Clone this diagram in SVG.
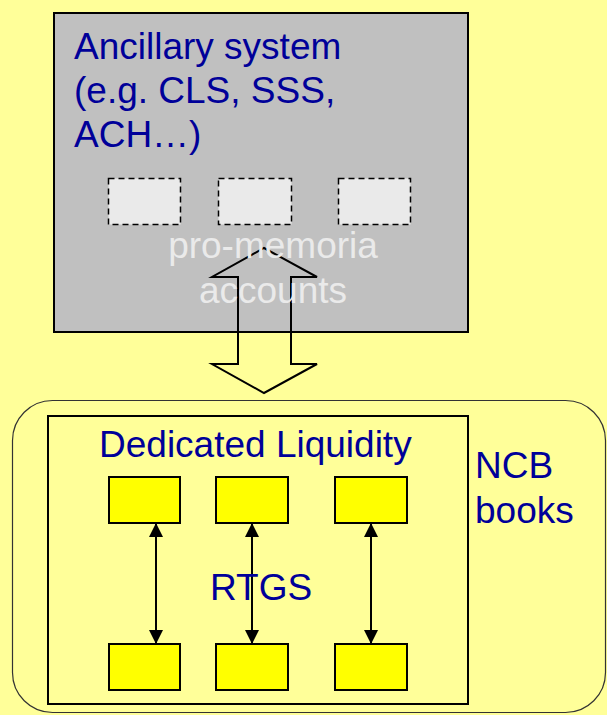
<svg xmlns="http://www.w3.org/2000/svg" width="607" height="715" viewBox="0 0 607 715">
<style>
.t{font-family:"Liberation Sans",Arial,sans-serif;font-size:37px;fill:#000099}
.pm{font-family:"Liberation Sans",Arial,sans-serif;font-size:37px;fill:#EAEAEA;text-anchor:middle}
.acc{fill:#EAEAEA;stroke:#000;stroke-width:1.5;stroke-dasharray:6,4}
.box{fill:#FFFF00;stroke:#000;stroke-width:2}
.ln{stroke:#000;stroke-width:2;fill:none}
</style>
<defs>
<marker id="ah" viewBox="0 0 14 15" refX="14" refY="7" markerWidth="14" markerHeight="15" markerUnits="userSpaceOnUse" orient="auto-start-reverse">
<path d="M0,0 L14,7 L0,14 Z" fill="#000"/>
</marker>
</defs>
<rect width="607" height="715" fill="#FFFF99"/>
<g id="ancillary">
<rect x="54" y="13" width="414" height="319" fill="#C0C0C0" stroke="#000" stroke-width="2"/>
<text class="t" x="74" y="59">Ancillary system</text>
<text class="t" x="74" y="103">(e.g. CLS, SSS,</text>
<text class="t" x="74" y="147">ACH…)</text>
</g>
<g id="pm1"><rect class="acc" x="108.5" y="178.5" width="72" height="46"/></g>
<g id="pm2"><rect class="acc" x="218.5" y="178.5" width="73" height="46"/></g>
<g id="pm3"><rect class="acc" x="338.5" y="178.5" width="72" height="46"/></g>
<g id="connectors">
<path class="ln" d="M264,248 L317,277 L291,277 L291,364 L317,364 L264,393 L212,364 L238,364 L238,277 L212,277 Z"/>
<line class="ln" x1="156" y1="523" x2="156" y2="644" marker-start="url(#ah)" marker-end="url(#ah)"/>
<line class="ln" x1="252" y1="523" x2="252" y2="644" marker-start="url(#ah)" marker-end="url(#ah)"/>
<line class="ln" x1="371" y1="523" x2="371" y2="644" marker-start="url(#ah)" marker-end="url(#ah)"/>
</g>
<g id="pmlabel">
<text class="pm" x="273" y="258">pro-memoria</text>
<text class="pm" x="273" y="303">accounts</text>
</g>
<g id="ncb">
<rect x="12.5" y="400.5" width="593" height="312" rx="40" ry="40" fill="none" stroke="#333" stroke-width="1.2"/>
<text class="t" x="475" y="478">NCB</text>
<text class="t" x="475" y="523">books</text>
</g>
<g id="rtgs">
<rect x="48" y="416" width="420" height="288" fill="none" stroke="#000" stroke-width="2"/>
<text class="t" x="99" y="457">Dedicated Liquidity</text>
<text class="t" x="210" y="600">RTGS</text>
</g>
<g id="dl1"><rect class="box" x="109" y="477" width="71" height="46"/></g>
<g id="dl2"><rect class="box" x="216" y="477" width="72" height="46"/></g>
<g id="dl3"><rect class="box" x="335" y="477" width="72" height="46"/></g>
<g id="r1"><rect class="box" x="109" y="644" width="71" height="46"/></g>
<g id="r2"><rect class="box" x="216" y="644" width="72" height="46"/></g>
<g id="r3"><rect class="box" x="335" y="644" width="72" height="46"/></g>
</svg>
